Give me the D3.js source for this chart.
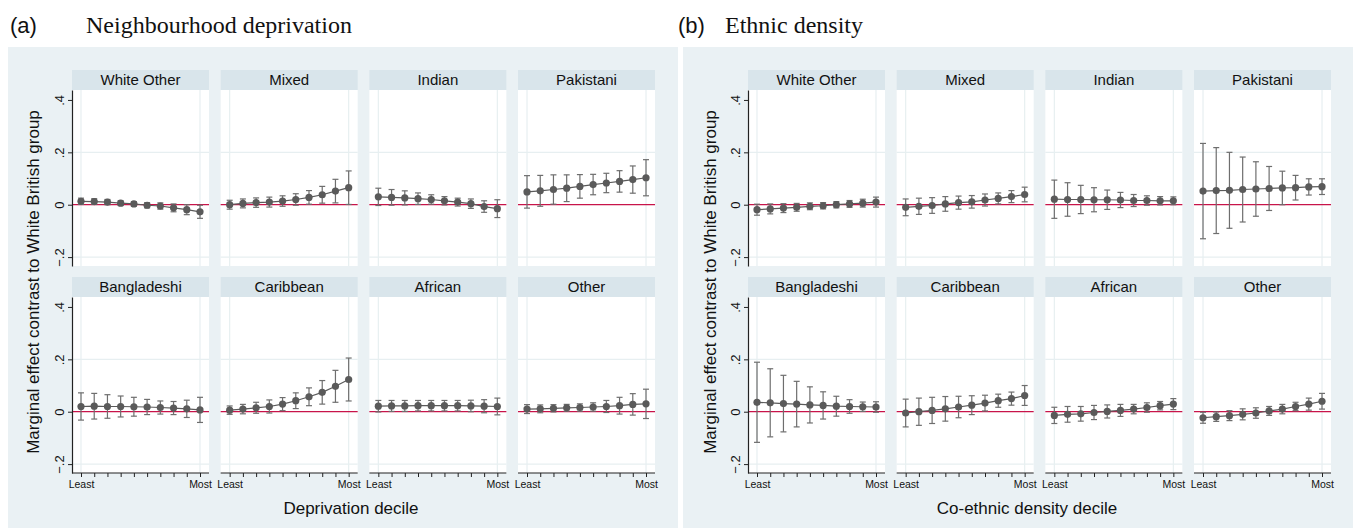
<!DOCTYPE html>
<html>
<head>
<meta charset="utf-8">
<script src="https://cdn.jsdelivr.net/npm/d3@7"></script>
<style>
  body { margin: 0; background: #fff; }
  svg { display: block; }
</style>
</head>
<body>
<svg class="chart"></svg>
<script>
// groups, in facet order (row by row)
let groups = ['White Other', 'Mixed', 'Indian', 'Pakistani',
              'Bangladeshi', 'Caribbean', 'African', 'Other']
let deciles = [1, 2, 3, 4, 5, 6, 7, 8, 9, 10]
let yTicks = [-0.2, 0, 0.2, 0.4]

// (a) deprivation: point estimates and 95% CI half widths, one row per group
let depEst = [
  [0.013, 0.012, 0.010, 0.006, 0.003, -0.002, -0.005, -0.012, -0.019, -0.027],
  [0.000, 0.005, 0.008, 0.010, 0.014, 0.020, 0.028, 0.038, 0.052, 0.065],
  [0.030, 0.028, 0.026, 0.023, 0.020, 0.015, 0.010, 0.004, -0.007, -0.015],
  [0.049, 0.053, 0.058, 0.063, 0.070, 0.077, 0.083, 0.089, 0.096, 0.103],
  [0.020, 0.021, 0.020, 0.020, 0.019, 0.018, 0.016, 0.014, 0.011, 0.007],
  [0.006, 0.010, 0.015, 0.020, 0.029, 0.042, 0.057, 0.074, 0.097, 0.123],
  [0.021, 0.022, 0.022, 0.023, 0.023, 0.023, 0.023, 0.022, 0.021, 0.020],
  [0.010, 0.011, 0.013, 0.015, 0.016, 0.018, 0.020, 0.023, 0.028, 0.030]
]
let depHalf = [
  [0.012, 0.011, 0.010, 0.009, 0.009, 0.010, 0.012, 0.015, 0.019, 0.025],
  [0.017, 0.017, 0.018, 0.019, 0.020, 0.022, 0.026, 0.032, 0.045, 0.064],
  [0.033, 0.030, 0.027, 0.022, 0.018, 0.016, 0.015, 0.018, 0.022, 0.034],
  [0.062, 0.059, 0.056, 0.051, 0.045, 0.039, 0.037, 0.041, 0.052, 0.069],
  [0.052, 0.049, 0.045, 0.040, 0.036, 0.029, 0.025, 0.025, 0.033, 0.048],
  [0.016, 0.018, 0.021, 0.025, 0.025, 0.030, 0.034, 0.045, 0.061, 0.082],
  [0.022, 0.021, 0.021, 0.020, 0.020, 0.020, 0.020, 0.022, 0.025, 0.032],
  [0.017, 0.015, 0.014, 0.013, 0.014, 0.016, 0.023, 0.032, 0.041, 0.056]
]

// (b) ethnic density
let denEst = [
  [-0.019, -0.016, -0.013, -0.010, -0.006, -0.004, 0.000, 0.003, 0.006, 0.010],
  [-0.010, -0.006, -0.003, 0.003, 0.008, 0.011, 0.018, 0.024, 0.031, 0.039],
  [0.021, 0.020, 0.020, 0.019, 0.019, 0.018, 0.016, 0.016, 0.015, 0.015],
  [0.052, 0.054, 0.055, 0.058, 0.060, 0.062, 0.064, 0.065, 0.068, 0.069],
  [0.036, 0.034, 0.031, 0.029, 0.026, 0.024, 0.021, 0.020, 0.019, 0.018],
  [-0.005, 0.000, 0.005, 0.011, 0.018, 0.025, 0.033, 0.042, 0.050, 0.062],
  [-0.014, -0.010, -0.008, -0.003, 0.001, 0.005, 0.010, 0.016, 0.023, 0.029],
  [-0.023, -0.019, -0.015, -0.010, -0.005, 0.003, 0.010, 0.020, 0.029, 0.040]
]
let denHalf = [
  [0.021, 0.019, 0.017, 0.015, 0.013, 0.012, 0.012, 0.013, 0.015, 0.019],
  [0.032, 0.031, 0.030, 0.028, 0.025, 0.024, 0.023, 0.021, 0.023, 0.028],
  [0.073, 0.064, 0.054, 0.046, 0.037, 0.029, 0.023, 0.018, 0.016, 0.015],
  [0.182, 0.164, 0.145, 0.124, 0.104, 0.084, 0.064, 0.047, 0.031, 0.030],
  [0.153, 0.130, 0.108, 0.087, 0.069, 0.052, 0.038, 0.026, 0.018, 0.020],
  [0.053, 0.052, 0.050, 0.047, 0.041, 0.036, 0.030, 0.025, 0.025, 0.038],
  [0.031, 0.030, 0.028, 0.027, 0.025, 0.023, 0.018, 0.018, 0.016, 0.021],
  [0.021, 0.018, 0.019, 0.021, 0.020, 0.017, 0.018, 0.016, 0.023, 0.030]
]

let width = 1356, height = 529
let panelW = 137, colStep = 148.67
let stripH = 20, plotH = 176
let rowTops = [70, 277]

let svg = d3.select('.chart')
    .attr('width', width)
    .attr('height', height)
    .style('font-family', 'Liberation Sans, Arial, sans-serif')

let x = d3.scaleLinear().domain([1, 10]).range([9, 128])

function drawFigure(opts) {
    let g = svg.append('g')

    g.append('rect')
        .attr('x', opts.bgX).attr('y', 47)
        .attr('width', 670).attr('height', 481)
        .attr('fill', '#eaf1f4')

    // heading
    svg.append('text')
        .attr('x', opts.letterX).attr('y', 33)
        .style('font-size', '22px')
        .attr('fill', '#111')
        .text(opts.letter)
    svg.append('text')
        .attr('x', opts.titleX).attr('y', 33)
        .style('font-family', 'Liberation Serif, Times New Roman, serif')
        .style('font-size', '24px')
        .attr('fill', '#111')
        .text(opts.title)

    groups.forEach((name, i) => {
        let row = Math.floor(i / 4), col = i % 4
        let left = opts.plotX + col * colStep
        let top = rowTops[row]
        let plotTop = top + stripH, plotBottom = plotTop + plotH

        let y = d3.scaleLinear()
            .domain([-0.234, 0.438])
            .range([plotBottom, plotTop])

        let p = g.append('g').attr('transform', `translate(${left},0)`)

        p.append('rect')
            .attr('x', 0).attr('y', top)
            .attr('width', panelW).attr('height', stripH)
            .attr('fill', '#d9e5eb')
        p.append('text')
            .attr('x', panelW / 2).attr('y', top + stripH / 2 + 5)
            .attr('text-anchor', 'middle')
            .style('font-size', '15px')
            .attr('fill', '#111')
            .text(name)

        p.append('rect')
            .attr('x', 0).attr('y', plotTop)
            .attr('width', panelW).attr('height', plotH)
            .attr('fill', '#fff')

        // grid
        p.selectAll('.hgrid')
            .data([-0.2, 0.2])
            .enter().append('line')
            .attr('x1', 0).attr('x2', panelW)
            .attr('y1', d => y(d)).attr('y2', d => y(d))
            .attr('stroke', '#e7eff1').attr('stroke-width', 1.2)
        p.selectAll('.vgrid')
            .data([1, 10])
            .enter().append('line')
            .attr('x1', d => x(d)).attr('x2', d => x(d))
            .attr('y1', plotTop).attr('y2', plotBottom)
            .attr('stroke', '#e7eff1').attr('stroke-width', 1.2)

        // zero line
        p.append('line')
            .attr('x1', 0).attr('x2', panelW)
            .attr('y1', y(0)).attr('y2', y(0))
            .attr('stroke', '#c8144a').attr('stroke-width', 1.3)

        let pts = deciles.map((d, k) => ({
            d: d, est: opts.est[i][k], half: opts.half[i][k]
        }))

        // CI bars
        let bars = p.append('g')
            .attr('stroke', '#6e6e6e').attr('stroke-width', 1.2)
        bars.selectAll('.ci')
            .data(pts)
            .enter().append('line')
            .attr('x1', d => x(d.d)).attr('x2', d => x(d.d))
            .attr('y1', d => y(d.est - d.half)).attr('y2', d => y(d.est + d.half))
        bars.selectAll('.capHi')
            .data(pts)
            .enter().append('line')
            .attr('x1', d => x(d.d) - 3).attr('x2', d => x(d.d) + 3)
            .attr('y1', d => y(d.est + d.half)).attr('y2', d => y(d.est + d.half))
        bars.selectAll('.capLo')
            .data(pts)
            .enter().append('line')
            .attr('x1', d => x(d.d) - 3).attr('x2', d => x(d.d) + 3)
            .attr('y1', d => y(d.est - d.half)).attr('y2', d => y(d.est - d.half))

        let line = d3.line().x(d => x(d.d)).y(d => y(d.est))
        p.append('path')
            .datum(pts)
            .attr('d', line)
            .attr('fill', 'none')
            .attr('stroke', '#5a5a5a').attr('stroke-width', 1.2)

        p.selectAll('.pt')
            .data(pts)
            .enter().append('circle')
            .attr('cx', d => x(d.d))
            .attr('cy', d => y(d.est))
            .attr('r', 3.6)
            .attr('fill', '#5a5a5a')

        // y axis on first column
        if (col === 0) {
            let ya = p.append('g')
                .call(d3.axisLeft(y)
                    .tickValues(yTicks)
                    .tickSize(4)
                    .tickSizeOuter(0)
                    .tickFormat(v => v === 0 ? '0' : d3.format('.1f')(v).replace('0.', '.')))
            ya.select('.domain').attr('stroke', '#222').attr('stroke-width', 1.2)
            ya.selectAll('.tick line').attr('stroke', '#222')
            ya.selectAll('.tick text')
                .attr('transform', 'rotate(-90)')
                .attr('x', 0).attr('y', -8).attr('dy', 0)
                .attr('text-anchor', 'middle')
                .style('font-size', '13px')
                .attr('fill', '#111')
        }

        // x axis on bottom row
        if (row === 1) {
            let xa = p.append('g')
                .attr('transform', `translate(0,${plotBottom})`)
                .call(d3.axisBottom(x)
                    .tickValues(deciles)
                    .tickSize(4)
                    .tickFormat(v => v === 1 ? 'Least' : (v === 10 ? 'Most' : '')))
            xa.select('.domain').remove()
            xa.append('line')
                .attr('x1', 0).attr('x2', panelW)
                .attr('stroke', '#222').attr('stroke-width', 1.2)
            xa.selectAll('.tick line').attr('stroke', '#222')
            xa.selectAll('.tick text')
                .attr('y', 8)
                .style('font-size', '10.5px')
                .attr('fill', '#111')
        }
    })

    // axis titles
    svg.append('text')
        .attr('transform', `translate(${opts.yTitleX},282) rotate(-90)`)
        .attr('text-anchor', 'middle')
        .style('font-size', '17px')
        .attr('fill', '#111')
        .text('Marginal effect contrast to White British group')
    svg.append('text')
        .attr('x', opts.xTitleX).attr('y', 514)
        .attr('text-anchor', 'middle')
        .style('font-size', '17px')
        .attr('fill', '#111')
        .text(opts.xTitle)
}

drawFigure({
    bgX: 8, plotX: 72, letterX: 10, letter: '(a)', titleX: 86,
    title: 'Neighbourhood deprivation',
    est: depEst, half: depHalf,
    yTitleX: 39, xTitleX: 351, xTitle: 'Deprivation decile'
})

drawFigure({
    bgX: 683, plotX: 748, letterX: 678, letter: '(b)', titleX: 725,
    title: 'Ethnic density',
    est: denEst, half: denHalf,
    yTitleX: 716, xTitleX: 1027, xTitle: 'Co-ethnic density decile'
})
</script>
</body>
</html>
